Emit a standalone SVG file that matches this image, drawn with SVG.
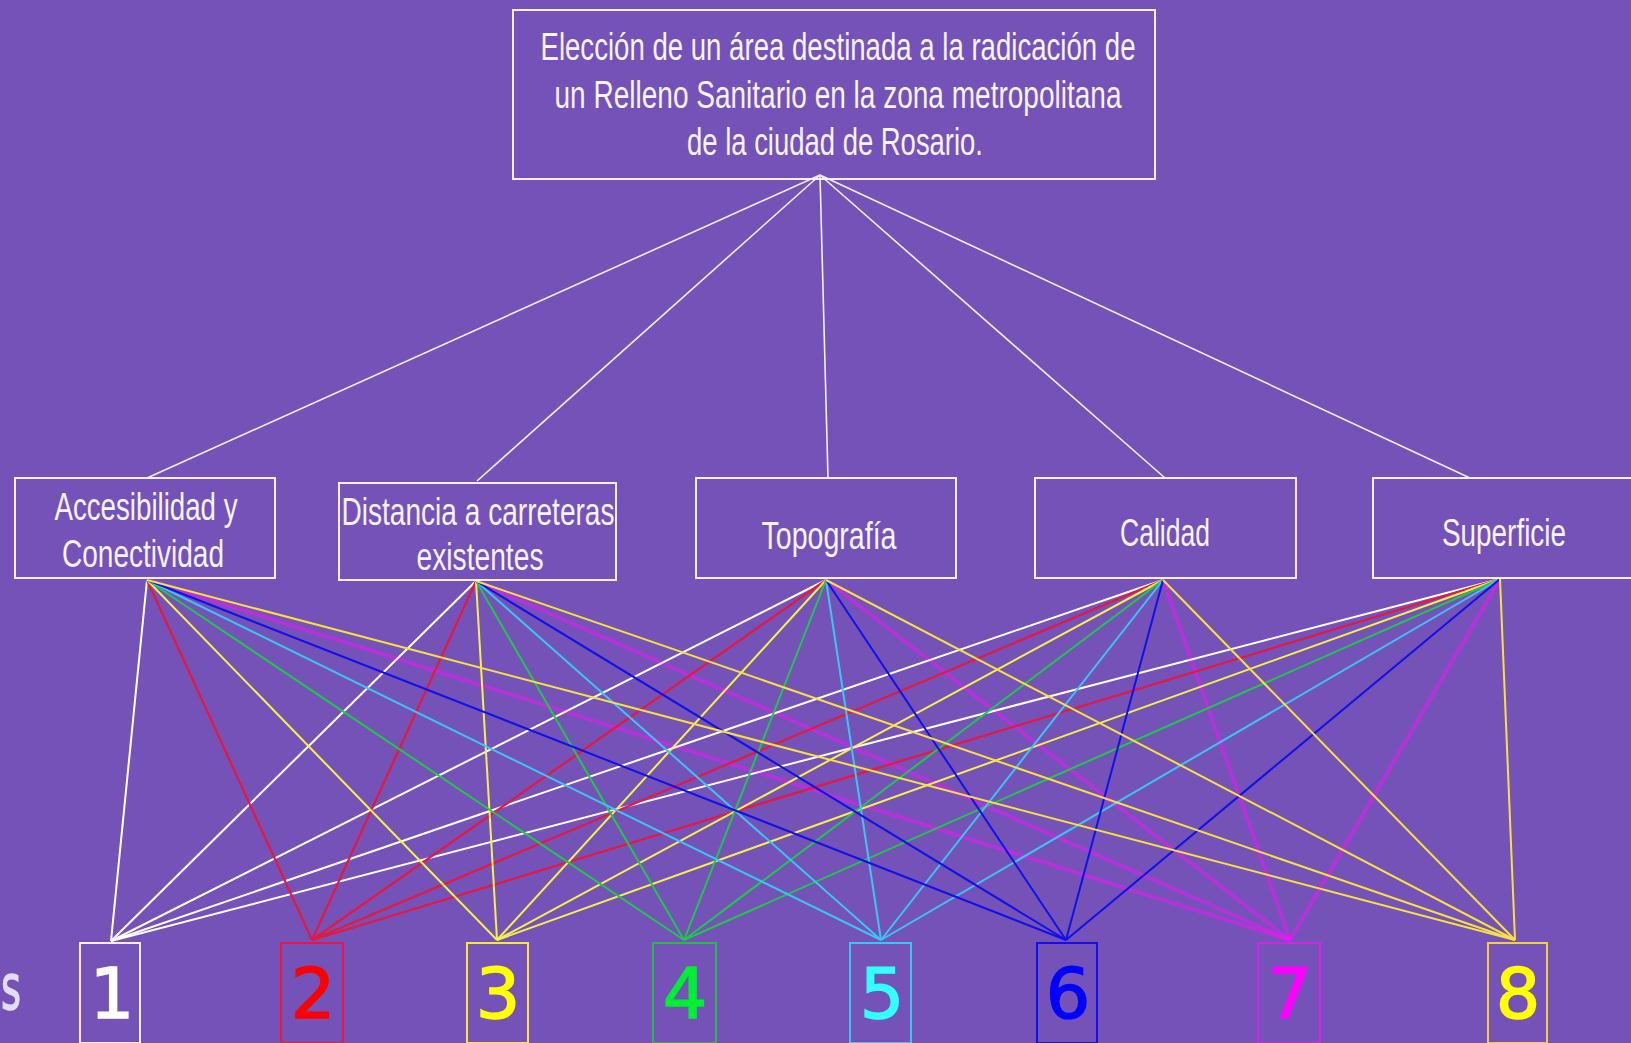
<svg xmlns="http://www.w3.org/2000/svg" width="1631" height="1043" viewBox="0 0 1631 1043">
<style>
.bg{fill:#7452B8}
.box{fill:none;stroke:#f4eeff;stroke-width:2}
.t{font-family:"Liberation Sans",Arial,sans-serif;fill:#f7f3ff;font-size:38px;text-anchor:middle}
.num{font-family:"DejaVu Sans",sans-serif;font-size:70px;text-anchor:middle;stroke-width:1.5}
.top line{stroke:#f4eeff;stroke-width:1.6}
.w{stroke:#ffffff;stroke-width:2}
.r{stroke:#e8173f;stroke-width:2.2}
.y{stroke:#f6f04a;stroke-width:2}
.g{stroke:#1fc84a;stroke-width:2}
.c{stroke:#3cc4f4;stroke-width:2}
.b{stroke:#1010e8;stroke-width:2}
.m{stroke:#ff10ff;stroke-width:4;stroke-opacity:0.45}
.o{stroke:#f8e040;stroke-width:2}
</style>
<rect class="bg" x="0" y="0" width="1631" height="1043"/>

<g id="connectors">
<g class="top">
<line x1="820" y1="175" x2="147" y2="478"/>
<line x1="820" y1="175" x2="477" y2="481"/>
<line x1="820" y1="175" x2="828" y2="478"/>
<line x1="820" y1="175" x2="1165" y2="478"/>
<line x1="820" y1="175" x2="1470" y2="478"/>
</g>
<g id="to7">
<line class="m" x1="147" y1="580" x2="1290" y2="940"/>
<line class="m" x1="476" y1="581" x2="1290" y2="940"/>
<line class="m" x1="826" y1="580" x2="1290" y2="940"/>
<line class="m" x1="1163" y1="580" x2="1290" y2="940"/>
<line class="m" x1="1500" y1="579" x2="1290" y2="940"/>
</g>
<g id="to1">
<line class="w" x1="147" y1="580" x2="111" y2="941"/>
<line class="w" x1="476" y1="581" x2="111" y2="941"/>
<line class="w" x1="826" y1="580" x2="111" y2="941"/>
<line class="w" x1="1163" y1="580" x2="111" y2="941"/>
<line class="w" x1="1500" y1="579" x2="111" y2="941"/>
</g>
<g id="to2">
<line class="r" x1="147" y1="580" x2="312" y2="940"/>
<line class="r" x1="476" y1="581" x2="312" y2="940"/>
<line class="r" x1="826" y1="580" x2="312" y2="940"/>
<line class="r" x1="1163" y1="580" x2="312" y2="940"/>
<line class="r" x1="1500" y1="579" x2="312" y2="940"/>
</g>
<g id="to3">
<line class="y" x1="147" y1="580" x2="497" y2="940"/>
<line class="y" x1="476" y1="581" x2="497" y2="940"/>
<line class="y" x1="826" y1="580" x2="497" y2="940"/>
<line class="y" x1="1163" y1="580" x2="497" y2="940"/>
<line class="y" x1="1500" y1="579" x2="497" y2="940"/>
</g>
<g id="to4">
<line class="g" x1="147" y1="580" x2="684" y2="940"/>
<line class="g" x1="476" y1="581" x2="684" y2="940"/>
<line class="g" x1="826" y1="580" x2="684" y2="940"/>
<line class="g" x1="1163" y1="580" x2="684" y2="940"/>
<line class="g" x1="1500" y1="579" x2="684" y2="940"/>
</g>
<g id="to5">
<line class="c" x1="147" y1="580" x2="881" y2="940"/>
<line class="c" x1="476" y1="581" x2="881" y2="940"/>
<line class="c" x1="826" y1="580" x2="881" y2="940"/>
<line class="c" x1="1163" y1="580" x2="881" y2="940"/>
<line class="c" x1="1500" y1="579" x2="881" y2="940"/>
</g>
<g id="to6">
<line class="b" x1="147" y1="580" x2="1066" y2="940"/>
<line class="b" x1="476" y1="581" x2="1066" y2="940"/>
<line class="b" x1="826" y1="580" x2="1066" y2="940"/>
<line class="b" x1="1163" y1="580" x2="1066" y2="940"/>
<line class="b" x1="1500" y1="579" x2="1066" y2="940"/>
</g>
<g id="to8">
<line class="o" x1="147" y1="580" x2="1515" y2="940"/>
<line class="o" x1="476" y1="581" x2="1515" y2="940"/>
<line class="o" x1="826" y1="580" x2="1515" y2="940"/>
<line class="o" x1="1163" y1="580" x2="1515" y2="940"/>
<line class="o" x1="1500" y1="579" x2="1515" y2="940"/>
</g>
</g>

<g id="goal">
<rect class="box" x="513" y="10" width="642" height="169"/>
<text class="t" x="838" y="60" textLength="595" lengthAdjust="spacingAndGlyphs">Elección de un área destinada a la radicación de</text>
<text class="t" x="838" y="108" textLength="567" lengthAdjust="spacingAndGlyphs">un Relleno Sanitario en la zona metropolitana</text>
<text class="t" x="835" y="155" textLength="296" lengthAdjust="spacingAndGlyphs">de la ciudad de Rosario.</text>
</g>

<g id="c1">
<rect class="box" x="15" y="478" width="260" height="100"/>
<text class="t" x="146" y="520" textLength="183" lengthAdjust="spacingAndGlyphs">Accesibilidad y</text>
<text class="t" x="143" y="567" textLength="162" lengthAdjust="spacingAndGlyphs">Conectividad</text>
</g>
<g id="c2">
<rect class="box" x="339" y="483" width="277" height="97"/>
<text class="t" x="478" y="525" textLength="273" lengthAdjust="spacingAndGlyphs">Distancia a carreteras</text>
<text class="t" x="480" y="570" textLength="127" lengthAdjust="spacingAndGlyphs">existentes</text>
</g>
<g id="c3">
<rect class="box" x="696" y="478" width="260" height="100"/>
<text class="t" x="829" y="549" textLength="135" lengthAdjust="spacingAndGlyphs">Topografía</text>
</g>
<g id="c4">
<rect class="box" x="1035" y="478" width="261" height="100"/>
<text class="t" x="1165" y="546" textLength="90" lengthAdjust="spacingAndGlyphs">Calidad</text>
</g>
<g id="c5">
<rect class="box" x="1373" y="478" width="262" height="100"/>
<text class="t" x="1504" y="546" textLength="124" lengthAdjust="spacingAndGlyphs">Superficie</text>
</g>

<text x="1" y="1009" textLength="20" lengthAdjust="spacingAndGlyphs" style="font-family:'DejaVu Sans',sans-serif;font-size:62px;fill:#e2dcf4;stroke:#e2dcf4;stroke-width:1.5">s</text>

<g id="a1"><rect x="80" y="943" width="60" height="100" fill="none" stroke="#f4eeff" stroke-width="2"/><text class="num" x="112" y="1018" fill="#ffffff" stroke="#ffffff">1</text></g>
<g id="a2"><rect x="281" y="943" width="62" height="100" fill="none" stroke="#e8173f" stroke-width="2"/><text class="num" x="313" y="1018" fill="#ff0000" stroke="#ff0000">2</text></g>
<g id="a3"><rect x="467" y="943" width="61" height="100" fill="none" stroke="#f6e83a" stroke-width="2"/><text class="num" x="498" y="1018" fill="#ffff00" stroke="#ffff00">3</text></g>
<g id="a4"><rect x="653" y="943" width="63" height="100" fill="none" stroke="#2ab84a" stroke-width="2"/><text class="num" x="685" y="1018" fill="#00ee33" stroke="#00ee33">4</text></g>
<g id="a5"><rect x="850" y="943" width="61" height="100" fill="none" stroke="#3cc4f4" stroke-width="2"/><text class="num" x="882" y="1018" fill="#33ffff" stroke="#33ffff">5</text></g>
<g id="a6"><rect x="1037" y="943" width="60" height="100" fill="none" stroke="#1010e8" stroke-width="2"/><text class="num" x="1068" y="1018" fill="#0000ff" stroke="#0000ff">6</text></g>
<g id="a7"><rect x="1258" y="943" width="62" height="100" fill="none" stroke="#ff10ff" stroke-width="2" stroke-opacity="0.7"/><text class="num" x="1290" y="1018" fill="#ff00ff" stroke="#ff00ff">7</text></g>
<g id="a8"><rect x="1488" y="943" width="59" height="100" fill="none" stroke="#f0d040" stroke-width="2"/><text class="num" x="1518" y="1018" fill="#ffff00" stroke="#ffff00">8</text></g>
</svg>
